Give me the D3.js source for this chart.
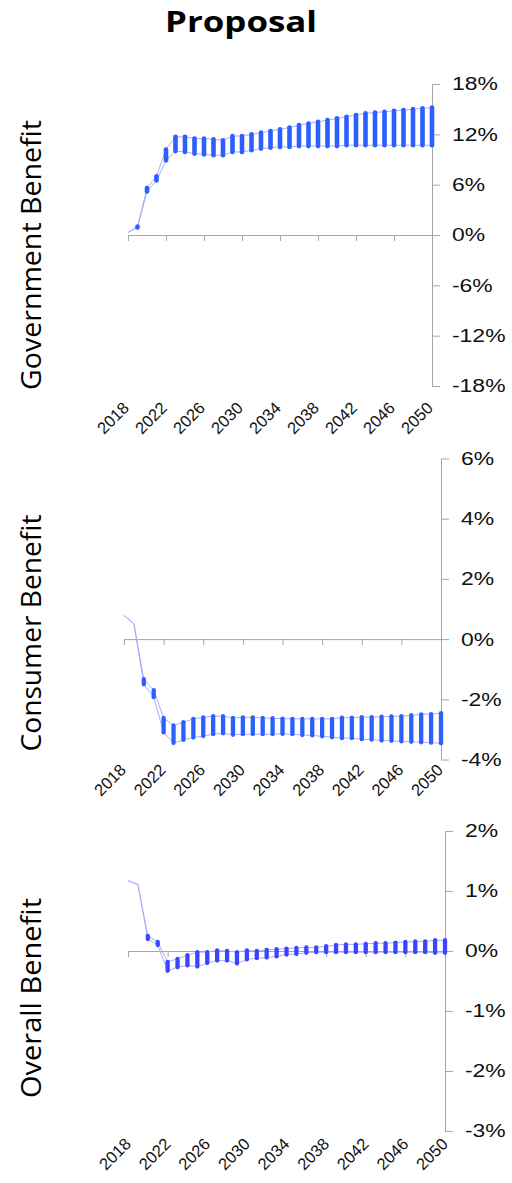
<!DOCTYPE html>
<html><head><meta charset="utf-8">
<script src="https://cdn.jsdelivr.net/npm/d3@7"></script>
<style>body{margin:0;background:#fff} svg{display:block}</style>
</head><body>
<svg id="c" width="512" height="1183"></svg>
<script>
// ---- data ----
const years = [2018,2019,2020,2021,2022,2023,2024,2025,2026,2027,2028,2029,2030,2031,2032,2033,2034,2035,2036,2037,2038,2039,2040,2041,2042,2043,2044,2045,2046,2047,2048,2049,2050];
const tickYears = [2018,2022,2026,2030,2034,2038,2042,2046,2050];

const govHigh = [0.3,1.0,5.6,7.0,10.2,11.7,11.7,11.5,11.5,11.4,11.3,11.8,11.8,12.0,12.2,12.4,12.6,12.8,13.1,13.3,13.5,13.7,13.9,14.1,14.3,14.5,14.6,14.7,14.8,14.9,15.0,15.1,15.2];
const govLow  = [0.3,0.9,5.2,6.5,8.9,10.0,9.9,9.7,9.6,9.5,9.5,9.9,9.9,10.1,10.3,10.4,10.5,10.5,10.6,10.6,10.6,10.6,10.6,10.7,10.7,10.7,10.7,10.7,10.7,10.7,10.7,10.7,10.7];
const govTicks = [18,12,6,0,-6,-12,-18];

const conHigh = [0.79,0.51,-1.33,-1.7,-2.62,-2.87,-2.76,-2.65,-2.6,-2.56,-2.56,-2.62,-2.6,-2.6,-2.62,-2.63,-2.64,-2.65,-2.65,-2.65,-2.65,-2.65,-2.61,-2.61,-2.59,-2.59,-2.58,-2.57,-2.56,-2.53,-2.5,-2.49,-2.46];
const conLow  = [0.79,0.51,-1.5,-1.93,-3.1,-3.45,-3.35,-3.27,-3.22,-3.16,-3.13,-3.18,-3.16,-3.16,-3.16,-3.16,-3.15,-3.16,-3.19,-3.2,-3.23,-3.26,-3.29,-3.29,-3.33,-3.34,-3.37,-3.38,-3.4,-3.41,-3.43,-3.44,-3.46];
const conTicks = [6,4,2,0,-2,-4];

const ovrHigh = [1.17,1.11,0.25,0.15,-0.18,-0.13,-0.07,-0.02,-0.02,0.01,0.0,-0.02,0.01,0.0,0.02,0.03,0.04,0.05,0.06,0.06,0.08,0.1,0.11,0.11,0.12,0.13,0.13,0.14,0.15,0.16,0.16,0.18,0.18];
const ovrLow  = [1.17,1.11,0.2,0.1,-0.33,-0.27,-0.24,-0.26,-0.2,-0.16,-0.16,-0.21,-0.14,-0.12,-0.11,-0.09,-0.06,-0.05,-0.03,-0.02,-0.02,-0.02,-0.02,-0.02,-0.02,-0.02,-0.02,-0.02,-0.02,-0.02,-0.02,-0.03,-0.03];
const ovrTicks = [2,1,0,-1,-2,-3];

const titleText = "Proposal";
const panelTitles = ["Government Benefit","Consumer Benefit","Overall Benefit"];

// ---- layout ----
const panels = [
  {high:govHigh, low:govLow, ticks:govTicks, title:panelTitles[0], barFrom:2019,
   x0:128, x1:432, yTop:84, yBot:386, labTop:409, labDx:2, titleY:255, titleLen:270,
   bar:"#2b5fff", barW:4.6},
  {high:conHigh, low:conLow, ticks:conTicks, title:panelTitles[1], barFrom:2020,
   x0:124, x1:441, yTop:458.5, yBot:759.5, labTop:771, labDx:3, titleY:633, titleLen:237,
   bar:"#2b5fff", barW:4.3},
  {high:ovrHigh, low:ovrLow, ticks:ovrTicks, title:panelTitles[2], barFrom:2020,
   x0:128, x1:445, yTop:831, yBot:1131, labTop:1145, labDx:4, titleY:998, titleLen:200,
   bar:"#3b45ff", barW:4.3}
];

const svg = d3.select("#c");
const axisColor = "#a6a6a6";
const lineColor = "#a9aefc";

svg.append("text").attr("x",241).attr("y",32).attr("text-anchor","middle")
  .attr("font-family","'Open Sans'").attr("font-weight","bold").attr("font-size",29)
  .attr("textLength",152).attr("lengthAdjust","spacingAndGlyphs")
  .text(titleText);

panels.forEach(p => {
  const x = d3.scaleLinear().domain([years[0], years[years.length-1]]).range([p.x0, p.x1]);
  const y = d3.scaleLinear().domain([d3.min(p.ticks), d3.max(p.ticks)]).range([p.yBot, p.yTop]);
  const g = svg.append("g");

  // y axis (right side)
  const ya = g.append("g").attr("transform",`translate(${p.x1},0)`)
    .call(d3.axisRight(y).tickValues(p.ticks).tickSize(8).tickSizeOuter(0).tickFormat(d => d + "%"));
  ya.select(".domain").attr("stroke",axisColor);
  ya.selectAll(".tick line").attr("stroke",axisColor);
  ya.selectAll(".tick text").attr("fill","#111").attr("font-family","'Liberation Sans', Arial")
    .attr("font-size",18.5).attr("x",20/1.24).attr("transform","scale(1.24,1)");

  // x axis at zero
  const xa = g.append("g").attr("transform",`translate(0,${y(0)})`)
    .call(d3.axisBottom(x).tickValues(tickYears).tickSize(6).tickSizeOuter(0).tickFormat(""));
  xa.select(".domain").attr("stroke",axisColor);
  xa.selectAll(".tick line").attr("stroke",axisColor);

  // x labels at bottom, rotated
  g.append("g").selectAll("text").data(tickYears).join("text")
    .attr("transform", d => `translate(${x(d)+p.labDx},${p.labTop}) rotate(-45)`)
    .attr("text-anchor","end").attr("font-family","'Liberation Sans', Arial")
    .attr("font-size",16.5).attr("fill","#111").text(d => d);

  // connecting lines
  const pts = years.map((yr,i) => ({yr, hi:p.high[i], lo:p.low[i]}));
  [ "hi", "lo" ].forEach(k => {
    g.append("path").datum(pts)
      .attr("d", d3.line().x(d => x(d.yr)).y(d => y(d[k])))
      .attr("fill","none").attr("stroke",lineColor).attr("stroke-width",1);
  });

  // high-low bars
  g.append("g").selectAll("line").data(pts.filter(d => d.yr >= p.barFrom)).join("line")
    .attr("x1", d => x(d.yr)).attr("x2", d => x(d.yr))
    .attr("y1", d => y(d.hi)).attr("y2", d => y(d.lo))
    .attr("stroke", p.bar).attr("stroke-width", p.barW).attr("stroke-linecap","round");

  // panel title
  svg.append("text").attr("transform",`translate(41,${p.titleY}) rotate(-90)`)
    .attr("text-anchor","middle").attr("font-family","'Open Sans'").attr("font-size",27)
    .attr("textLength",p.titleLen).attr("lengthAdjust","spacingAndGlyphs")
    .attr("fill","#000").text(p.title);
});
</script>
</body></html>
